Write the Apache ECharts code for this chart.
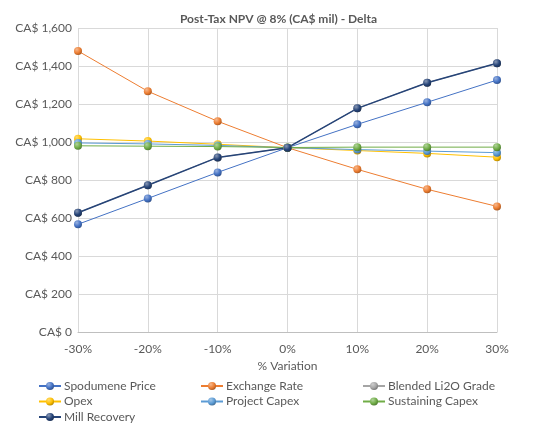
<!DOCTYPE html>
<html><head><meta charset="utf-8">
<script src="https://cdn.jsdelivr.net/npm/echarts@6/dist/echarts.min.js"></script>
<style>html,body{margin:0;padding:0;background:#fff}#c{width:557px;height:425px}</style>
</head><body><div id="c"></div>
<script>
const categories = ['-30%','-20%','-10%','0%','10%','20%','30%'];
const spodumenePrice = [567, 703, 840, 970, 1093, 1209, 1326];
const exchangeRate = [1479, 1267, 1109, 970, 856, 751, 661];
const blendedGrade = [628, 772, 919, 970, 1177, 1312, 1414];
const opex = [1017, 1005, 988, 970, 955, 940, 920];
const projectCapex = [995, 990, 982, 970, 960, 952, 944];
const sustainingCapex = [980, 978, 976, 971, 973, 973, 973];
const millRecovery = [628, 772, 919, 970, 1177, 1312, 1414];
const yTicks = {min: 0, max: 1600, interval: 200};

const seriesDefs = [
  ['Spodumene Price', spodumenePrice, '#4472C4'],
  ['Exchange Rate', exchangeRate, '#ED7D31'],
  ['Blended Li2O Grade', blendedGrade, '#A5A5A5'],
  ['Opex', opex, '#FFC000'],
  ['Project Capex', projectCapex, '#5B9BD5'],
  ['Sustaining Capex', sustainingCapex, '#70AD47'],
  ['Mill Recovery', millRecovery, '#264478']
];
function lighten(hex, f){
  const n=parseInt(hex.slice(1),16);let r=n>>16,g=(n>>8)&255,b=n&255;
  r=Math.round(r+(255-r)*f);g=Math.round(g+(255-g)*f);b=Math.round(b+(255-b)*f);
  return 'rgb('+r+','+g+','+b+')';
}
function darken(hex,f){
  const n=parseInt(hex.slice(1),16);let r=n>>16,g=(n>>8)&255,b=n&255;
  return 'rgb('+Math.round(r*f)+','+Math.round(g*f)+','+Math.round(b*f)+')';
}
const font = 'Lato, "Open Sans", sans-serif';
const series = seriesDefs.map(([name, data, col]) => ({
  name, type: 'line', data,
  symbol: 'circle', symbolSize: 8,
  lineStyle: {color: col, width: name==='Mill Recovery'?1.5:1},
  itemStyle: {
    color: {type:'radial', x:0.35, y:0.3, r:0.75,
      colorStops:[{offset:0,color:lighten(col,0.45)},{offset:0.6,color:col},{offset:1,color:darken(col,0.7)}]},
    borderWidth: 0
  },
  emphasis: {disabled: true}
}));
const legendBase = {
  orient: 'vertical', top: 380, padding: 0, height: 45, itemWidth: 22, itemHeight: 10, itemGap: 3.5,
  textStyle: {color: '#595959', fontSize: 12, fontFamily: font, padding: [0,0,0,-2]}
};
const chart = echarts.init(document.getElementById('c'));
chart.setOption({
  animation: false,
  title: {text: 'Post-Tax NPV @ 8% (CA$ mil) - Delta', left: 'center', top: 8,
    textStyle: {color: '#595959', fontSize: 12, fontWeight: 'bold', fontFamily: font}},
  grid: {left: 78, right: 60, top: 28, bottom: 93},
  legend: [
    Object.assign({}, legendBase, {left: 38, data: ['Spodumene Price','Opex','Mill Recovery']}),
    Object.assign({}, legendBase, {left: 200, data: ['Exchange Rate','Project Capex']}),
    Object.assign({}, legendBase, {left: 362, data: ['Blended Li2O Grade','Sustaining Capex']})
  ],
  xAxis: {
    type: 'category', data: categories, boundaryGap: false,
    name: '% Variation', nameLocation: 'middle', nameGap: 28,
    nameTextStyle: {color: '#595959', fontSize: 12, fontFamily: font},
    axisLine: {lineStyle: {color: '#BFBFBF'}},
    axisTick: {show: false},
    axisLabel: {color: '#595959', fontSize: 12, fontFamily: font, margin: 11},
    splitLine: {show: true, lineStyle: {color: '#D9D9D9'}}
  },
  yAxis: {
    type: 'value', min: yTicks.min, max: yTicks.max, interval: yTicks.interval,
    axisLine: {show: false}, axisTick: {show: false},
    axisLabel: {color: '#595959', fontSize: 12, fontFamily: font, margin: 6,
      formatter: v => 'CA$ ' + v.toLocaleString('en-US')},
    splitLine: {lineStyle: {color: '#D9D9D9'}}
  },
  series
});
</script></body></html>
